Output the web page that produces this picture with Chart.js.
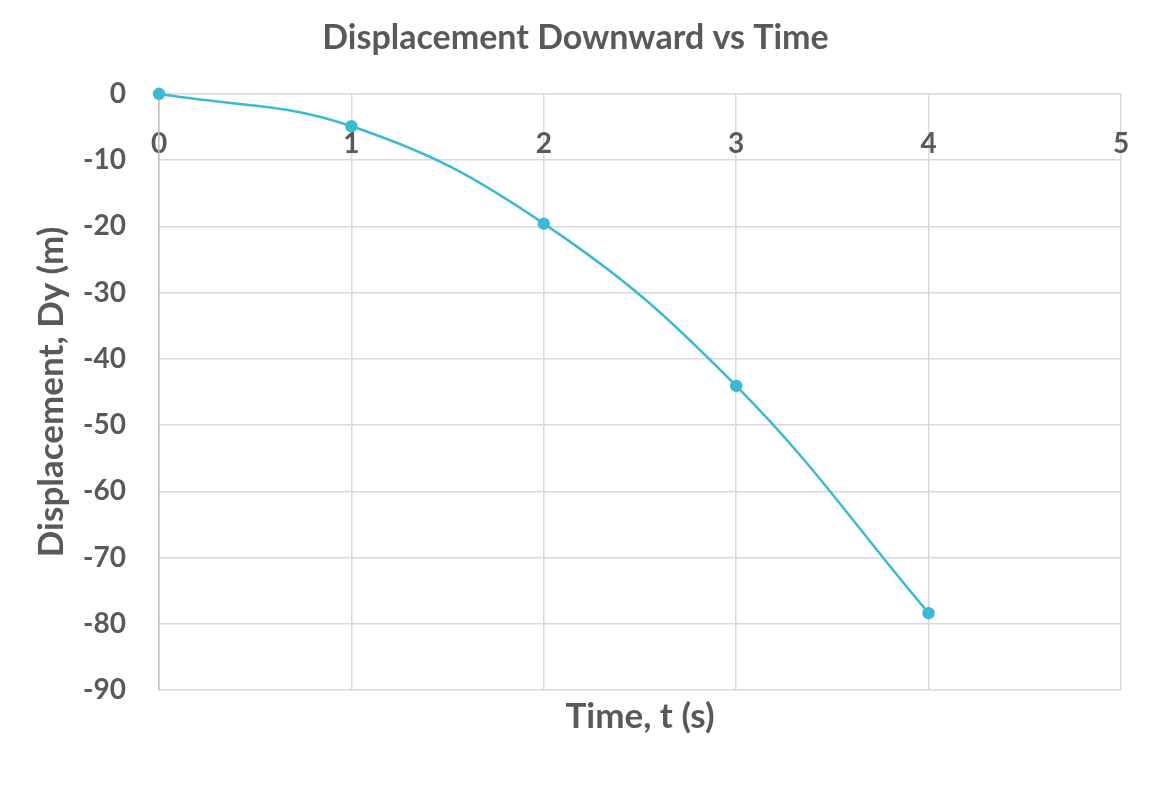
<!DOCTYPE html>
<html>
<head>
<meta charset="utf-8">
<script src="https://cdn.jsdelivr.net/npm/chart.js@4/dist/chart.umd.min.js"></script>
<style>
  html, body { margin: 0; padding: 0; background: #ffffff; }
  #wrap { width: 1154px; height: 806px; }
</style>
</head>
<body>
<div id="wrap"><canvas id="fallChart"></canvas></div>
<script>
// time (s) and displacement (m)
var times = [0, 1, 2, 3, 4];
var displacement = [0, -4.9, -19.6, -44.1, -78.4];
var xTicks = [0, 1, 2, 3, 4, 5];
var yTicks = [0, -10, -20, -30, -40, -50, -60, -70, -80, -90];

var TEXT = "#595959";
var GRID = "#d9d9d9";
var LINE = "#3dbad3";

function tickList(list) {
  return function (scale) {
    scale.ticks = list.map(function (v) { return { value: v }; });
  };
}

var points = times.map(function (t, i) { return { x: t, y: displacement[i] }; });

new Chart(document.getElementById("fallChart"), {
  type: "scatter",
  data: {
    datasets: [{
      label: "Dy",
      data: points,
      showLine: true,
      clip: false,
      borderColor: LINE,
      backgroundColor: LINE,
      borderWidth: 2.5,
      pointRadius: 5,
      pointHoverRadius: 5,
      tension: 0.4
    }]
  },
  options: {
    responsive: true,
    maintainAspectRatio: false,
    animation: false,
    layout: { padding: { top: 17, left: 30, right: 33, bottom: 64 } },
    plugins: {
      legend: { display: false },
      tooltip: { enabled: false },
      title: {
        display: true,
        text: "Displacement Downward vs Time",
        color: TEXT,
        font: { family: "Lato", size: 34, weight: "bold" },
        padding: { top: 1, bottom: 35 }
      }
    },
    scales: {
      x: {
        type: "linear",
        min: 0,
        max: 5,
        afterBuildTicks: tickList(xTicks),
        ticks: { display: false },
        grid: { color: GRID, lineWidth: 1.5, drawTicks: false },
        border: { display: false },
        title: {
          display: true,
          text: "Time, t (s)",
          color: TEXT,
          font: { family: "Lato", size: 35, weight: "bold" },
          padding: { top: 6, bottom: 4 }
        }
      },
      x2: {
        type: "linear",
        axis: "x",
        min: 0,
        max: 5,
        position: { y: 0 },
        afterBuildTicks: tickList(xTicks),
        // labels sit inside the plot, so they should not push the edges in
        afterFit: function (scale) { scale.paddingLeft = 0; scale.paddingRight = 0; },
        grid: { display: false, drawTicks: false },
        border: { display: false },
        ticks: {
          color: TEXT,
          padding: 33,
          font: { family: "Lato", size: 28, weight: "bold" }
        }
      },
      y: {
        type: "linear",
        min: -90,
        max: 0,
        afterBuildTicks: tickList(yTicks),
        afterFit: function (scale) { scale.width = 129; },
        grid: { color: GRID, lineWidth: 1.5, drawTicks: false },
        border: { color: "#bfbfbf", width: 1.5 },
        ticks: {
          color: TEXT,
          padding: 33,
          font: { family: "Lato", size: 28, weight: "bold" }
        },
        title: {
          display: true,
          text: "Displacement, Dy (m)",
          color: TEXT,
          font: { family: "Lato", size: 35, weight: "bold" },
          padding: { top: 1, bottom: 0 }
        }
      }
    }
  }
});
</script>
</body>
</html>
